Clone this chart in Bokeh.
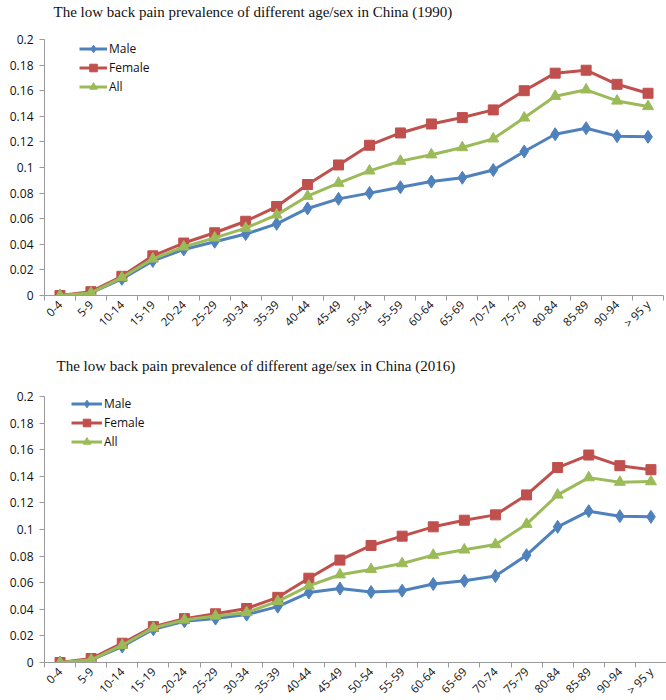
import math
from bokeh.plotting import figure
from bokeh.models import (Range1d, FixedTicker, Legend, LegendItem, Title, LinearAxis)
from bokeh.layouts import column
from bokeh.embed import file_html
from bokeh.resources import INLINE

# ---------------- data ----------------
ages = ["0-4", "5-9", "10-14", "15-19", "20-24", "25-29", "30-34", "35-39",
        "40-44", "45-49", "50-54", "55-59", "60-64", "65-69", "70-74",
        "75-79", "80-84", "85-89", "90-94", "> 95 y"]

male_1990 = [0.0, 0.002, 0.013, 0.027, 0.036, 0.042, 0.048, 0.056, 0.068, 0.0755,
             0.080, 0.0846, 0.089, 0.092, 0.098, 0.1125, 0.126, 0.1307, 0.1245, 0.124]
female_1990 = [0.0, 0.003, 0.015, 0.031, 0.041, 0.049, 0.058, 0.0695, 0.0867, 0.102,
               0.1174, 0.127, 0.134, 0.139, 0.145, 0.160, 0.1737, 0.176, 0.165, 0.158]
all_1990 = [0.0, 0.002, 0.014, 0.0286, 0.038, 0.045, 0.0526, 0.063, 0.0776, 0.0878,
            0.0974, 0.105, 0.110, 0.1156, 0.1224, 0.1388, 0.1557, 0.1607, 0.152, 0.1477]

male_2016 = [0.0, 0.002, 0.012, 0.025, 0.031, 0.033, 0.036, 0.042, 0.0526, 0.0556,
             0.053, 0.054, 0.059, 0.0614, 0.065, 0.0807, 0.102, 0.1138, 0.110, 0.1095]
female_2016 = [0.0, 0.003, 0.0145, 0.027, 0.033, 0.0366, 0.0406, 0.049, 0.0634, 0.077,
               0.088, 0.095, 0.102, 0.107, 0.111, 0.126, 0.1466, 0.156, 0.148, 0.145]
all_2016 = [0.0, 0.002, 0.013, 0.026, 0.032, 0.035, 0.0376, 0.046, 0.0576, 0.066,
            0.070, 0.0744, 0.0807, 0.0847, 0.0887, 0.104, 0.126, 0.139, 0.1356, 0.136]

y_ticks = [0.0, 0.02, 0.04, 0.06, 0.08, 0.1, 0.12, 0.14, 0.16, 0.18, 0.2]
y_tick_labels = ["0", "0.02", "0.04", "0.06", "0.08", "0.1", "0.12", "0.14", "0.16", "0.18", "0.2"]

series_names = ["Male", "Female", "All"]
colors = ["#4F81BD", "#C0504D", "#9BBB59"]
markers = ["diamond", "square", "triangle"]
marker_sizes = [13, 10, 11]

TICK_FONT = "Open Sans"
AXIS_COLOR = "#9A9A9A"


def make_chart(title, series, left, top, fw, fh, bottom, title_offset, gap,
               legend_xy, glyph_w):
    p = figure(frame_width=fw, frame_height=fh, output_backend="svg",
               toolbar_location=None, x_range=Range1d(0, len(ages)),
               y_range=Range1d(0, 0.2), min_border_left=left, min_border_top=top,
               min_border_bottom=bottom, min_border_right=3)
    p.outline_line_color = None
    p.grid.visible = False
    p.background_fill_color = "white"

    # blank spacer between the title and the plot frame
    spacer = LinearAxis(ticker=FixedTicker(ticks=[]), axis_line_color=None,
                        major_tick_line_color=None, minor_tick_line_color=None,
                        major_tick_out=0, major_tick_in=0, minor_tick_out=0,
                        major_label_standoff=0, axis_label=" ",
                        axis_label_standoff=0, axis_label_text_font="Liberation Sans",
                        axis_label_text_font_size=f"{gap}px")
    p.add_layout(spacer, "above")

    p.title = Title(text=title, align="left", offset=title_offset,
                    text_font="Liberation Serif", text_font_size="15px",
                    text_font_style="normal", text_color="#111111", standoff=0)

    xs = [i + 0.5 for i in range(len(ages))]
    items = []
    for name, vals, c, m, s in zip(series_names, series, colors, markers, marker_sizes):
        lr = p.line(xs, vals, line_color=c, line_width=3)
        sr = p.scatter(xs, vals, marker=m, size=s, fill_color=c, line_color=c)
        items.append(LegendItem(label=name, renderers=[lr, sr]))

    legend = Legend(items=items, location=legend_xy, margin=0, padding=0,
                    spacing=0, glyph_height=19, glyph_width=glyph_w, label_height=19,
                    label_standoff=2, border_line_color=None, background_fill_alpha=0,
                    label_text_font=TICK_FONT, label_text_font_size="12px",
                    label_text_color="#111111")
    p.add_layout(legend, "center")

    # x axis
    xa = p.below[0]
    xa.ticker = FixedTicker(ticks=xs, minor_ticks=list(range(len(ages) + 1)))
    xa.major_label_overrides = {x: lab for x, lab in zip(xs, ages)}
    xa.major_label_orientation = math.pi / 4
    xa.major_tick_out = 0
    xa.major_tick_in = 0
    xa.minor_tick_out = 5
    xa.minor_tick_in = 0
    xa.minor_tick_line_color = AXIS_COLOR
    xa.axis_line_color = AXIS_COLOR
    xa.major_label_text_font = TICK_FONT
    xa.major_label_text_font_size = "11.5px"
    xa.major_label_text_color = "#111111"
    xa.major_label_standoff = 2

    # y axis
    ya = p.left[0]
    ya.ticker = FixedTicker(ticks=y_ticks)
    ya.major_label_overrides = {v: lab for v, lab in zip(y_ticks, y_tick_labels)}
    ya.major_tick_out = 5
    ya.major_tick_in = 0
    ya.minor_tick_out = 0
    ya.minor_tick_in = 0
    ya.major_tick_line_color = AXIS_COLOR
    ya.axis_line_color = AXIS_COLOR
    ya.major_label_text_font = TICK_FONT
    ya.major_label_text_font_size = "12px"
    ya.major_label_text_color = "#111111"
    ya.major_label_standoff = 6
    return p


p1 = make_chart("The low back pain prevalence of different age/sex in China (1990)",
                [male_1990, female_1990, all_1990], left=44, top=39, fw=619, fh=256,
                bottom=59, title_offset=9, gap=15, legend_xy=(35, 256 - 57),
                glyph_w=28)
p2 = make_chart("The low back pain prevalence of different age/sex in China (2016)",
                [male_2016, female_2016, all_2016], left=41, top=42, fw=622, fh=266,
                bottom=37, title_offset=12, gap=18, legend_xy=(27, 266 + 2 - 57),
                glyph_w=31)

layout = column(p1, p2, spacing=0)
open("out.html", "w").write(file_html(layout, INLINE))
